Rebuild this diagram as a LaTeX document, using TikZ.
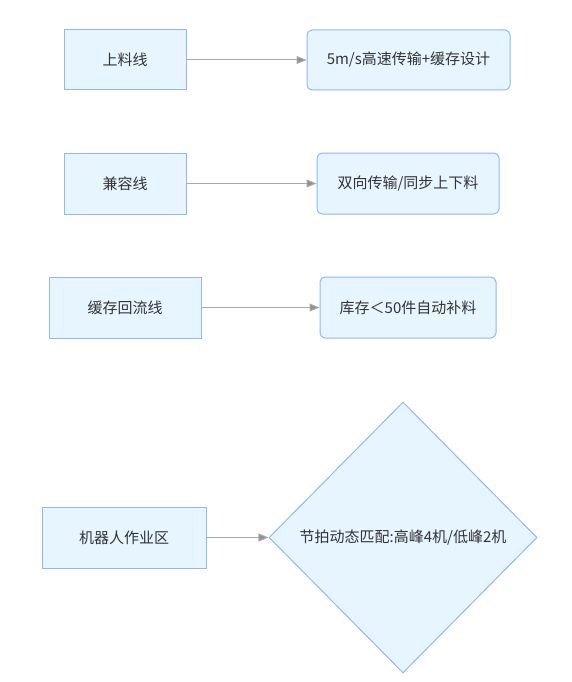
\documentclass[tikz,border=0pt]{standalone}
\usepackage{fontspec}
\setmainfont{Noto Sans CJK SC}
\usetikzlibrary{arrows.meta, positioning, shapes.geometric}
\definecolor{flfill}{RGB}{230, 245, 255}
\definecolor{flborder}{RGB}{145, 182, 250}
\definecolor{flarrow}{RGB}{170, 170, 170}
\definecolor{fltext}{RGB}{51, 51, 51}

\begin{document}
\begin{tikzpicture}[x=1pt, y=-1pt,
    every node/.style={font=\fontsize{15}{18}\selectfont, text=fltext},
    linebox/.style={draw=flborder, fill=flfill, line width=1pt, inner sep=0pt},
    notebox/.style={linebox, rounded corners=5pt},
    decision/.style={linebox, diamond, minimum width=268pt, minimum height=271pt},
    flow/.style={draw=flarrow, line width=1pt, -{Triangle[length=10pt, width=8pt, fill=flarrow!85!black]}}]
  \useasboundingbox (0,0) rectangle (572,682);

  % Row 1: feed line
  \node[linebox, minimum width=122pt, minimum height=60pt] (feed) at (125,60) {上料线};
  \node[notebox, minimum width=203pt, minimum height=60pt] (feednote) at (408.5,60) {5m/s高速传输+缓存设计};
  \draw[flow] (feed) -- (feednote);

  % Row 2: compatible line
  \node[linebox, minimum width=122pt, minimum height=61pt] (compat) at (125,183.5) {兼容线};
  \node[notebox, minimum width=182pt, minimum height=61pt] (compatnote) at (408,183.5) {双向传输/同步上下料};
  \draw[flow] (compat) -- (compatnote);

  % Row 3: buffer return line
  \node[linebox, minimum width=152pt, minimum height=61pt] (buffer) at (125,307.5) {缓存回流线};
  \node[notebox, minimum width=176pt, minimum height=61pt] (buffernote) at (408,307.5) {库存＜50件自动补料};
  \draw[flow] (buffer) -- (buffernote);

  % Row 4: robot zone and takt diamond
  \node[linebox, minimum width=164pt, minimum height=61pt] (robot) at (124,537.5) {机器人作业区};
  \node[decision] (takt) at (403,537.5) {节拍动态匹配:高峰4机/低峰2机};
  \draw[flow] (robot) -- (takt);
\end{tikzpicture}
\end{document}
